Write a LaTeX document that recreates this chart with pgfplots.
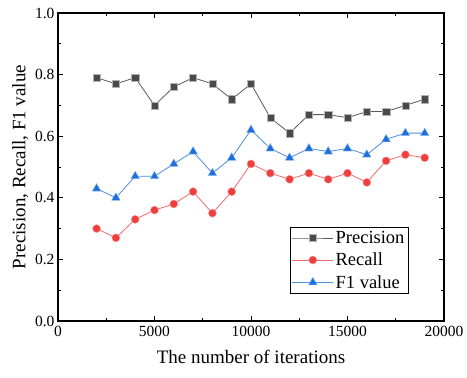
\documentclass[border=0pt]{standalone}
\usepackage{fontspec}
\setmainfont{Liberation Serif}
\usepackage{pgfplots}
\pgfplotsset{compat=1.18}
\definecolor{pcol}{HTML}{4A4A4A}
\definecolor{plin}{HTML}{5A5A5A}
\definecolor{rcol}{HTML}{EE3E3E}
\definecolor{rlin}{HTML}{F26A6A}
\definecolor{fcol}{HTML}{1E6FDB}
\definecolor{flin}{HTML}{4A8FE6}
\begin{document}
\begin{tikzpicture}
\begin{axis}[
  at={(0,0)}, anchor=south west,
  scale only axis,
  width=386bp, height=308bp,
  xmin=0, xmax=20000, ymin=0, ymax=1.0,
  xtick={0,5000,...,20000},
  minor xtick={2500,7500,12500,17500},
  ytick={0,0.2,...,1.0},
  minor ytick={0.1,0.3,0.5,0.7,0.9},
  tick align=inside,
  major tick length=5bp, minor tick length=3bp,
  tick style={black, line width=0.8bp},
  axis line style={line width=1.1bp},
  scaled x ticks=false,
  xticklabel style={/pgf/number format/fixed, /pgf/number format/1000 sep={}, yshift=-2bp},
  yticklabel style={/pgf/number format/fixed, /pgf/number format/fixed zerofill, /pgf/number format/precision=1},
  /pgf/number format/assume math mode=true,
  ticklabel style={font=\fontsize{15.5bp}{18bp}\selectfont},
  label style={font=\fontsize{19bp}{22bp}\selectfont},
  xlabel={The number of iterations},
  ylabel={Precision, Recall, F1 value},
  xlabel style={yshift=-6bp},
  ylabel style={yshift=0bp},
  legend style={at={(0.909,0.088)}, anchor=south east, draw=black, line width=0.8bp,
    font=\fontsize{18.5bp}{21bp}\selectfont, row sep=4bp, inner sep=2bp},
  legend cell align=left,
  legend image code/.code={
    \draw[mark repeat=2,mark phase=2] plot coordinates {(0cm,0cm) (0.72cm,0cm) (1.44cm,0cm)};
  },
]
\addplot[plin, line width=0.8bp, mark=square*, mark size=3.6bp,
  mark options={fill=pcol, draw=gray!60, line width=0.4bp}] coordinates {
(2000,0.79) (3000,0.77) (4000,0.79) (5000,0.70) (6000,0.76) (7000,0.79)
(8000,0.77) (9000,0.72) (10000,0.77) (11000,0.66) (12000,0.61) (13000,0.67)
(14000,0.67) (15000,0.66) (16000,0.68) (17000,0.68) (18000,0.70) (19000,0.72)};
\addlegendentry{Precision}
\addplot[rlin, line width=0.8bp, mark=*, mark size=4bp,
  mark options={fill=rcol, draw=rcol!50, line width=0.4bp}] coordinates {
(2000,0.30) (3000,0.27) (4000,0.33) (5000,0.36) (6000,0.38) (7000,0.42)
(8000,0.35) (9000,0.42) (10000,0.51) (11000,0.48) (12000,0.46) (13000,0.48)
(14000,0.46) (15000,0.48) (16000,0.45) (17000,0.52) (18000,0.54) (19000,0.53)};
\addlegendentry{Recall}
\addplot[flin, line width=0.8bp, mark=triangle*, mark size=5bp,
  mark options={fill=fcol, draw=fcol!50, line width=0.4bp}] coordinates {
(2000,0.43) (3000,0.40) (4000,0.47) (5000,0.47) (6000,0.51) (7000,0.55)
(8000,0.48) (9000,0.53) (10000,0.62) (11000,0.56) (12000,0.53) (13000,0.56)
(14000,0.55) (15000,0.56) (16000,0.54) (17000,0.59) (18000,0.61) (19000,0.61)};
\addlegendentry{F1 value}
\end{axis}
\pgfresetboundingbox
\path (-58bp,-57bp) rectangle (409bp,321bp);
\end{tikzpicture}
\end{document}
